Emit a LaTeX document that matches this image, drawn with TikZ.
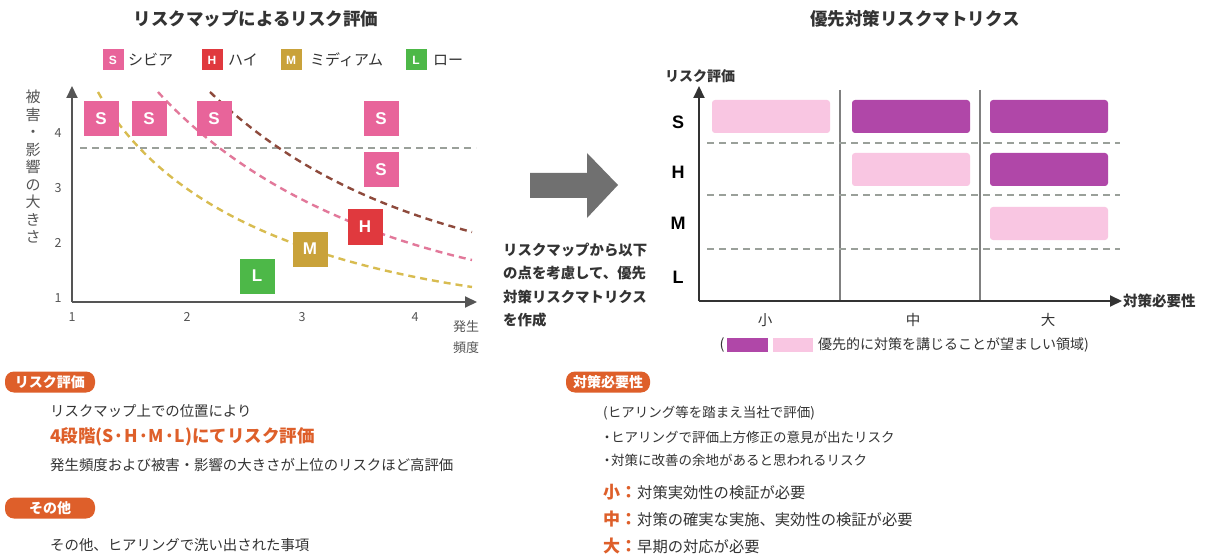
\documentclass[tikz,border=0pt]{standalone}
\usepackage{fontspec}
\setmainfont{Noto Sans CJK JP}
\newfontfamily\lat{Liberation Sans}
\usetikzlibrary{arrows.meta}
\definecolor{txt}{HTML}{333333}
\definecolor{cS}{HTML}{E8649A}
\definecolor{cH}{HTML}{E0393E}
\definecolor{cM}{HTML}{C9A23A}
\definecolor{cL}{HTML}{4DB848}
\definecolor{lpink}{HTML}{F9C6E2}
\definecolor{purp}{HTML}{B047A8}
\definecolor{orng}{HTML}{DE5F2A}
\definecolor{axc}{HTML}{555555}
\definecolor{dashc}{HTML}{9AA09A}
\definecolor{cdark}{HTML}{8E4A3C}
\definecolor{cpink}{HTML}{E2789A}
\definecolor{cyel}{HTML}{D8BC50}
\definecolor{arrc}{HTML}{707070}
\newcommand{\fsz}[1]{\fontsize{#1}{#1}\selectfont}
\newcommand{\bul}{\hbox to 8pt{\hss・\hss}}
\begin{document}
\begin{tikzpicture}[x=1pt,y=-1pt,
  mk/.style={minimum size=35pt, inner sep=0pt, text=white, font=\lat\bfseries\fsz{17}},
  lg/.style={minimum size=21pt, inner sep=0pt, text=white, font=\lat\bfseries\fsz{12}},
  lgt/.style={anchor=west, text=txt, font=\fsz{15}, inner sep=0pt},
  tick/.style={text=axc, font=\fsz{12.5}, inner sep=0pt},
  axis/.style={axc, line width=2pt, -{Triangle[length=12pt,width=11pt]}},
  hdash/.style={dashc, line width=1.4pt, dash pattern=on 7pt off 5pt},
  curve/.style={line width=2.4pt, dash pattern=on 7pt off 5pt},
  bar/.style={rounded corners=3pt},
  rowlab/.style={text=black, font=\lat\bfseries\fsz{18}, inner sep=0pt},
  coltxt/.style={text=txt, font=\fsz{14.5}, inner sep=0pt},
  ttl/.style={text=txt, font=\bfseries\fsz{17.5}, inner sep=0pt},
  pill/.style={fill=orng, rounded corners=9pt, minimum height=21pt, text=white, font=\bfseries\fsz{14}, inner sep=0pt},
  body/.style={anchor=west, text=txt, font=\fsz{14.4}, inner sep=0pt},
  body2/.style={anchor=west, text=txt, font=\fsz{13.5}, inner sep=0pt},
  lvl/.style={anchor=west, text=txt, font=\fsz{15.3}, inner sep=0pt}
]
\useasboundingbox (0,0) rectangle (1211,559);
\fill[white] (0,0) rectangle (1211,559);

% ---------- titles ----------
\node[ttl] (t1) at (256,19) {リスクマップによるリスク評価};
\node[ttl] (t2) at (915,19) {優先対策リスクマトリクス};

% ---------- legend ----------
\node[lg, fill=cS] (lS) at (113,60) {S};
\node[lgt] (lSt) at (128,60) {シビア};
\node[lg, fill=cH] (lH) at (212,60) {H};
\node[lgt] (lHt) at (228,60) {ハイ};
\node[lg, fill=cM] (lM) at (291,60) {M};
\node[lgt] (lMt) at (310,60) {ミディアム};
\node[lg, fill=cL] (lL) at (416,60) {L};
\node[lgt] (lLt) at (433,60) {ロー};

% ---------- left chart ----------
\coordinate (o1) at (72,302);
\coordinate (y1) at (72,86);
\coordinate (x1) at (477,302);
\draw[hdash] (80,148) -- (476,148);
\draw[curve, cyel] (98,92) .. controls (150,185) and (260,255) .. (472,287);
\draw[curve, cpink] (158,92) .. controls (220,160) and (320,225) .. (472,260);
\draw[curve, cdark] (210,92) .. controls (270,150) and (350,200) .. (472,232);
\draw[axis] (o1) -- (y1);
\draw[axis] (o1) -- (x1);
\node[tick] (ty4) at (58,133) {4};
\node[tick] (ty3) at (58,188) {3};
\node[tick] (ty2) at (58,243) {2};
\node[tick] (ty1) at (58,298) {1};
\node[tick] (tx1) at (72,317) {1};
\node[tick] (tx2) at (187,317) {2};
\node[tick] (tx3) at (302,317) {3};
\node[tick] (tx4) at (415,317) {4};
\node[text=axc, font=\fontsize{15}{17.5}\selectfont, align=center, inner sep=0pt] (ylab) at (33,167)
  {被\\害\\・\\影\\響\\の\\大\\き\\さ};
\node[text=axc, font=\fontsize{13}{21}\selectfont, align=center, inner sep=0pt] (xlab) at (466,337) {発生\\頻度};

\node[mk, fill=cS] (s1) at (101,119) {S};
\node[mk, fill=cS] (s2) at (149,119) {S};
\node[mk, fill=cS] (s3) at (214,119) {S};
\node[mk, fill=cS] (s4) at (381,119) {S};
\node[mk, fill=cS] (s5) at (381,170) {S};
\node[mk, fill=cH] (h1) at (365,227) {H};
\node[mk, fill=cM] (m1) at (310,249) {M};
\node[mk, fill=cL] (l1) at (257,276) {L};

% ---------- big arrow ----------
\fill[arrc] (530,173) -- (587,173) -- (587,153) -- (618,185) -- (587,218) -- (587,198) -- (530,198) -- cycle;
\node[anchor=west, text=txt, font=\bfseries\fontsize{14.4}{23.3}\selectfont, align=left, inner sep=0pt] (mid) at (503,285)
  {リスクマップから以下\\の点を考慮して、優先\\対策リスクマトリクス\\を作成};

% ---------- right chart ----------
\coordinate (o2) at (699,301);
\coordinate (y2) at (699,86);
\coordinate (x2) at (1122,301);
\draw[axc!75, line width=1.6pt] (840,90) -- (840,301);
\draw[axc!75, line width=1.6pt] (980,90) -- (980,301);
\draw[hdash] (707,143) -- (1120,143);
\draw[hdash] (707,195) -- (1120,195);
\draw[hdash] (707,249) -- (1120,249);
\fill[bar, lpink] (712,100) rectangle (830,133);
\fill[bar, purp] (852,100) rectangle (970,133);
\fill[bar, purp] (990,100) rectangle (1108,133);
\fill[bar, lpink] (852,153) rectangle (970,186);
\fill[bar, purp] (990,153) rectangle (1108,186);
\fill[bar, lpink] (990,207) rectangle (1108,240);
\draw[axis, black!80] (o2) -- (y2);
\draw[axis, black!80] (o2) -- (x2);
\node[text=txt, font=\bfseries\fsz{14}, inner sep=0pt] (ry) at (700,76) {リスク評価};
\node[anchor=west, text=txt, font=\bfseries\fsz{14.5}, inner sep=0pt] (rx) at (1123,301) {対策必要性};
\node[rowlab] (rS) at (678,122) {S};
\node[rowlab] (rH) at (678,172) {H};
\node[rowlab] (rM) at (678,223) {M};
\node[rowlab] (rL) at (678,277) {L};
\node[coltxt] (c1) at (765,320) {小};
\node[coltxt] (c2) at (913,320) {中};
\node[coltxt] (c3) at (1048,320) {大};
\node[coltxt] (lp) at (722,345) {(};
\fill[purp] (727,338) rectangle (768,352);
\fill[lpink] (773,338) rectangle (813,352);
\node[anchor=west, text=txt, font=\fsz{14}, inner sep=0pt] (lgd) at (818,345) {優先的に対策を講じることが望ましい領域)};

% ---------- bottom left ----------
\node[pill, minimum width=90pt] (p1) at (50,382) {リスク評価};
\node[body] (b1) at (50,411) {リスクマップ上での位置により};
\node[anchor=west, text=orng, font=\bfseries\fsz{17.5}, inner sep=0pt] (b2) at (50,437) {4段階(S·H·M·L)にてリスク評価};
\node[body] (b3) at (50,465) {発生頻度および被害・影響の大きさが上位のリスクほど高評価};
\node[pill, minimum width=90pt] (p2) at (50,508) {その他};
\node[body] (b4) at (50,545) {その他、ヒアリングで洗い出された事項};

% ---------- bottom right ----------
\node[pill, minimum width=84pt] (p3) at (608,382) {対策必要性};
\node[body2] (r1) at (603,413) {(ヒアリング等を踏まえ当社で評価)};
\node[body2] (r2) at (603,437) {\bul ヒアリングで評価上方修正の意見が出たリスク};
\node[body2] (r3) at (603,460) {\bul 対策に改善の余地があると思われるリスク};
\node[lvl] (r4) at (603,492) {\textcolor{orng}{\bfseries\fsz{17}小：}対策実効性の検証が必要};
\node[lvl] (r5) at (603,519) {\textcolor{orng}{\bfseries\fsz{17}中：}対策の確実な実施、実効性の検証が必要};
\node[lvl] (r6) at (603,546) {\textcolor{orng}{\bfseries\fsz{17}大：}早期の対応が必要};
\end{tikzpicture}
\end{document}
